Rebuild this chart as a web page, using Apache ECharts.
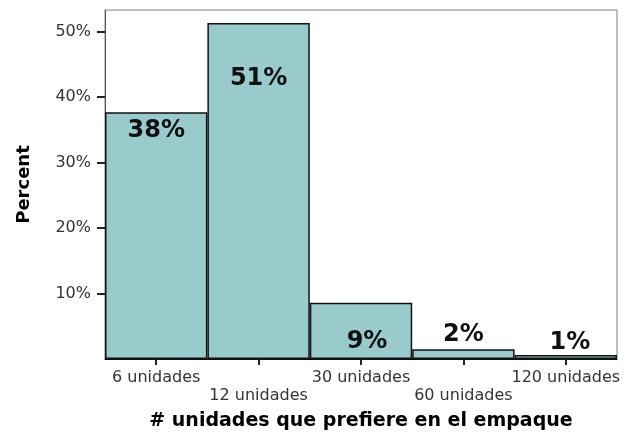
<!DOCTYPE html>
<html>
<head>
<meta charset="utf-8">
<script src="https://cdn.jsdelivr.net/npm/echarts@6/dist/echarts.min.js"></script>
<style>
html,body{margin:0;padding:0;background:#fff;}
#chart{width:632px;height:432px;}
</style>
</head>
<body>
<div id="chart"></div>
<script>
// Data
var categories = ['6 unidades', '12 unidades', '30 unidades', '60 unidades', '120 unidades'];
var percentValues = [37.7, 51.3, 8.6, 1.5, 0.6];
var yTickValues = [10, 20, 30, 40, 50];
var xTitle = '# unidades que prefiere en el empaque';
var yTitle = 'Percent';

// Label placement per bar (style, not data)
var labelPlacement = [
  {position: 'insideTop', distance: 7, offset: [0, 0]},
  {position: 'insideTop', distance: 44, offset: [0, 0]},
  {position: 'insideTop', distance: 27, offset: [6, 0]},
  {position: 'top', distance: 2, offset: [0, 0]},
  {position: 'top', distance: 0, offset: [4, 0]}
];

var chart = echarts.init(document.getElementById('chart'), null, {renderer: 'canvas'});

var seriesData = percentValues.map(function (v, i) {
  return {
    value: v,
    label: {
      position: labelPlacement[i].position,
      distance: labelPlacement[i].distance,
      offset: labelPlacement[i].offset
    }
  };
});

chart.setOption({
  backgroundColor: '#ffffff',
  animation: false,
  grid: {
    left: 105, right: 15, top: 10, bottom: 73,
    outerBoundsMode: 'none',
    containLabel: false,
    show: true, borderColor: '#808080', borderWidth: 1, backgroundColor: '#ffffff'
  },
  xAxis: {
    type: 'category',
    data: categories,
    boundaryGap: true,
    name: xTitle,
    nameLocation: 'middle',
    nameGap: 53,
    nameTextStyle: {fontFamily: 'DejaVu Sans', fontWeight: 'bold', fontSize: 19, color: '#000'},
    axisLine: {show: true, lineStyle: {color: '#111', width: 1}},
    axisTick: {show: true, alignWithLabel: true, length: 6, lineStyle: {color: '#222', width: 2}},
    axisLabel: {
      interval: 0,
      margin: 10,
      fontFamily: 'DejaVu Sans',
      fontSize: 16,
      lineHeight: 18,
      color: '#333',
      formatter: function (val, idx) { return idx % 2 === 1 ? '\n' + val : val; }
    },
    splitLine: {show: false}
  },
  yAxis: {
    type: 'value',
    min: 0,
    max: 53.3,
    interval: 10,
    name: yTitle,
    nameLocation: 'middle',
    nameRotate: 90,
    nameGap: 72,
    nameTextStyle: {fontFamily: 'DejaVu Sans', fontWeight: 'bold', fontSize: 18, color: '#000'},
    axisLine: {show: true, lineStyle: {color: '#555', width: 1}},
    axisTick: {show: true, length: 8, inside: false, customValues: yTickValues, lineStyle: {color: '#222', width: 2}},
    axisLabel: {
      customValues: yTickValues,
      margin: 14,
      fontFamily: 'DejaVu Sans',
      fontSize: 16,
      color: '#333',
      formatter: function (v) { return v + '%'; }
    },
    splitLine: {show: false}
  },
  series: [{
    type: 'bar',
    data: seriesData,
    barCategoryGap: '0%',
    itemStyle: {color: '#99cbcc', borderColor: '#111', borderWidth: 1.5},
    label: {
      show: true,
      fontFamily: 'DejaVu Sans',
      fontWeight: 'bold',
      fontSize: 24,
      color: '#111',
      formatter: function (p) { return Math.round(p.value) + '%'; }
    }
  }]
});
</script>
</body>
</html>
